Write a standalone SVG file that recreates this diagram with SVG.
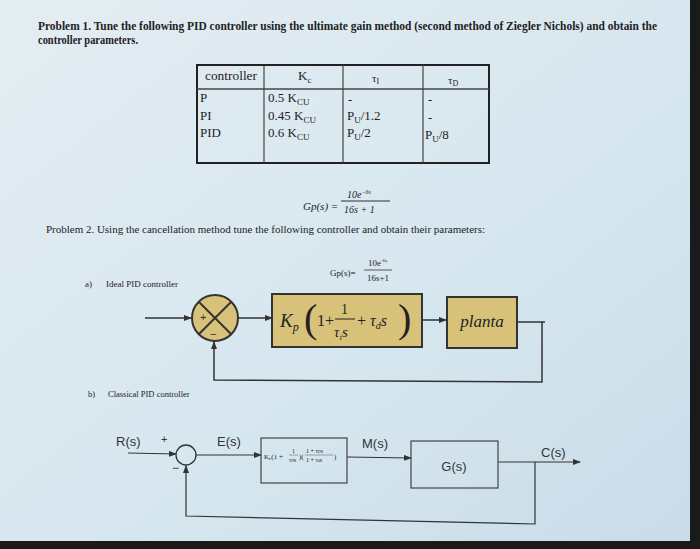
<svg xmlns="http://www.w3.org/2000/svg" width="700" height="549" viewBox="0 0 700 549">
<defs>
<linearGradient id="bg" x1="0" y1="0" x2="1" y2="1">
<stop offset="0" stop-color="#e4edf2"/><stop offset="0.6" stop-color="#d6e6ef"/><stop offset="1" stop-color="#c9dce8"/>
</linearGradient>
<marker id="ar" markerWidth="8" markerHeight="6" refX="7" refY="3" orient="auto" markerUnits="userSpaceOnUse"><path d="M0,0 L8,3 L0,6 Z" fill="#333"/></marker>
<style>
.t{font-family:"Liberation Serif",serif;fill:#222}
.s{font-family:"Liberation Sans",sans-serif;fill:#333}
.ln{stroke:#333;stroke-width:1.5;fill:none}
.bx{fill:none;stroke:#444;stroke-width:1.2}
.tan{fill:#d8c27a;stroke:#333;stroke-width:2}
</style>
</defs>
<rect width="700" height="549" fill="#1a1a1a"/>
<rect x="0" y="0" width="690" height="541" fill="url(#bg)"/>

<g id="text1">
<text class="t" x="38" y="30" font-size="12" font-weight="bold" textLength="619" lengthAdjust="spacingAndGlyphs">Problem 1. Tune the following PID controller using the ultimate gain method (second method of Ziegler Nichols) and obtain the</text>
<text class="t" x="38" y="44" font-size="12" font-weight="bold" textLength="100" lengthAdjust="spacingAndGlyphs">controller parameters.</text>
</g>
<g id="table">
<rect x="197" y="65" width="292" height="98" fill="none" stroke="#222" stroke-width="2"/>
<line x1="197" y1="89" x2="489" y2="89" stroke="#444" stroke-width="1.5"/>
<line x1="264" y1="65" x2="264" y2="163" stroke="#444" stroke-width="1.2"/>
<line x1="343" y1="65" x2="343" y2="163" stroke="#444" stroke-width="1.2"/>
<line x1="423" y1="65" x2="423" y2="163" stroke="#444" stroke-width="1.2"/>
<g class="t" font-size="13">
<text x="205" y="80" textLength="52" lengthAdjust="spacingAndGlyphs">controller</text><text x="298" y="80">K<tspan font-size="9" dy="3">c</tspan></text>
<text x="372" y="82" font-size="11">τ<tspan font-size="8" dy="2">I</tspan></text>
<text x="448" y="84" font-size="11">τ<tspan font-size="8" dy="2">D</tspan></text>
<text x="200" y="102">P</text><text x="200" y="120">PI</text><text x="200" y="137">PID</text>
<text x="268" y="102">0.5 K<tspan font-size="9" dy="3">CU</tspan></text>
<text x="268" y="120">0.45 K<tspan font-size="9" dy="3">CU</tspan></text>
<text x="268" y="137">0.6 K<tspan font-size="9" dy="3">CU</tspan></text>
<text x="348" y="104">-</text><text x="428" y="104">-</text><text x="428" y="122">-</text>
<text x="347" y="120">P<tspan font-size="9" dy="3">U</tspan><tspan dy="-3">/1.2</tspan></text>
<text x="347" y="137">P<tspan font-size="9" dy="3">U</tspan><tspan dy="-3">/2</tspan></text>
<text x="425" y="139">P<tspan font-size="9" dy="3">U</tspan><tspan dy="-3">/8</tspan></text>
</g>
</g>
<g id="eq1" class="t" font-style="italic">
<text x="303" y="210" font-size="11">Gp(s) =</text>
<text x="347" y="198" font-size="10">10e<tspan font-size="6" dy="-4">−6s</tspan></text>
<line x1="341" y1="201" x2="390" y2="201" stroke="#333"/>
<text x="344" y="213" font-size="10">16s + 1</text>
</g>
<text class="t" x="46" y="233" font-size="10.5" textLength="439" lengthAdjust="spacingAndGlyphs">Problem 2. Using the cancellation method tune the following controller and obtain their parameters:</text>
<g id="eq2" class="t" font-size="9">
<text x="330" y="276">Gp(s)=</text>
<text x="368" y="266">10e<tspan font-size="5" dy="-4">-6s</tspan></text>
<line x1="364" y1="270" x2="392" y2="270" stroke="#333" stroke-width="0.8"/>
<text x="367" y="281">16s+1</text>
</g>
<text class="t" x="85" y="287" font-size="9">a)</text>
<text class="t" x="106" y="287" font-size="9">Ideal PID controller</text>

<g id="conn_a">
<line class="ln" x1="145" y1="318" x2="191" y2="318" marker-end="url(#ar)"/>
<line class="ln" x1="238" y1="318" x2="272" y2="318" marker-end="url(#ar)"/>
<line class="ln" x1="422" y1="320" x2="446" y2="320" marker-end="url(#ar)"/>
<polyline class="ln" points="517,322 545,322"/>
<polyline class="ln" points="542,322 542,382 214,380 214,342" marker-end="url(#ar)"/>
</g>
<g id="sum_a">
<circle cx="215" cy="318" r="23" fill="#d8c27a" stroke="#333" stroke-width="2"/>
<line x1="199" y1="302" x2="231" y2="334" stroke="#333" stroke-width="2"/>
<line x1="231" y1="302" x2="199" y2="334" stroke="#333" stroke-width="2"/>
<text class="s" x="200" y="321" font-size="11">+</text>
<text class="s" x="210" y="338" font-size="11">−</text>
</g>
<g id="pid_a">
<rect class="tan" x="272" y="294" width="150" height="53"/>
<g class="t" font-style="italic">
<text x="280" y="327" font-size="19">K<tspan font-size="12" dy="4">p</tspan></text>
<text x="304" y="332" font-size="40" font-style="normal">(</text>
<text x="317" y="326" font-size="16" font-style="normal">1+</text>
<text x="341" y="314" font-size="14" font-style="normal">1</text>
<line x1="335" y1="319" x2="355" y2="319" stroke="#222"/>
<text x="334" y="337" font-size="15">τ<tspan font-size="9" dy="3">i</tspan><tspan dy="-3">s</tspan></text>
<text x="357" y="326" font-size="16" font-style="normal">+</text>
<text x="370" y="326" font-size="16">τ<tspan font-size="10" dy="3">d</tspan><tspan dy="-3">s</tspan></text>
<text x="398" y="332" font-size="40" font-style="normal">)</text>
</g>
</g>
<g id="planta">
<rect class="tan" x="447" y="297" width="70" height="51"/>
<text class="t" x="482" y="327" font-size="17" font-style="italic" text-anchor="middle">planta</text>
</g>

<text class="t" x="88" y="397" font-size="8.5">b)</text>
<text class="t" x="108" y="397" font-size="8.5">Classical PID controller</text>

<g id="conn_b">
<line x1="128" y1="453" x2="176" y2="454" stroke="#333" stroke-width="1.2" marker-end="url(#ar)"/>
<line x1="196" y1="455" x2="261" y2="455" stroke="#333" stroke-width="1.2" marker-end="url(#ar)"/>
<line x1="347" y1="457" x2="411" y2="458" stroke="#333" stroke-width="1.2" marker-end="url(#ar)"/>
<line x1="498" y1="462" x2="580" y2="462" stroke="#333" stroke-width="1.2" marker-end="url(#ar)"/>
<polyline points="535,462 535,524 186,516 186,466" fill="none" stroke="#333" stroke-width="1.2" marker-end="url(#ar)"/>
</g>
<g id="sum_b">
<circle cx="186" cy="455" r="10" fill="none" stroke="#333" stroke-width="1.3"/>
</g>
<g class="s" font-size="13">
<text x="116" y="446">R(s)</text>
<text x="161" y="443" font-size="11">+</text>
<text x="172" y="472" font-size="12">−</text>
<text x="217" y="446">E(s)</text>
<text x="362" y="448">M(s)</text>
<text x="541" y="457">C(s)</text>
</g>
<g id="pid_b" class="t">
<rect class="bx" x="261" y="438" width="86" height="45"/>
<text x="264" y="459" font-size="7">K<tspan font-size="5" dy="1">c</tspan><tspan dy="-1">(1 +</tspan></text>
<text x="292" y="453" font-size="6">1</text>
<line x1="289" y1="455" x2="298" y2="455" stroke="#555" stroke-width="0.5"/>
<text x="289" y="462" font-size="5.5">τ<tspan font-size="4">D</tspan>s</text>
<text x="299" y="459" font-size="7">)(</text>
<text x="306" y="453" font-size="6">1 + τ<tspan font-size="4">D</tspan>s</text>
<line x1="305" y1="455" x2="333" y2="455" stroke="#555" stroke-width="0.5"/>
<text x="306" y="462" font-size="6">1 + τ<tspan font-size="4">d</tspan>s</text>
<text x="334" y="459" font-size="7">)</text>
</g>
<g id="gs">
<rect class="bx" x="411" y="441" width="87" height="47"/>
<text class="s" x="454" y="471" font-size="13" text-anchor="middle">G(s)</text>
</g>
</svg>
